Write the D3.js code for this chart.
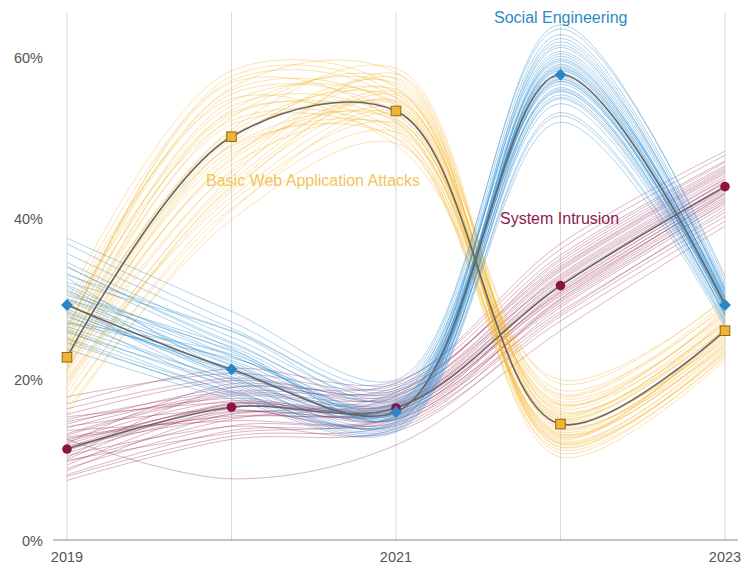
<!DOCTYPE html>
<html>
<head>
<meta charset="utf-8">
<script src="https://cdn.jsdelivr.net/npm/d3@7"></script>
<style>
  html, body { margin: 0; padding: 0; background: #fff; }
  svg { display: block; font-family: "Liberation Sans", Arial, sans-serif; }
</style>
</head>
<body>
<svg id="chart" width="746" height="564"></svg>
<script>
// Years on the x axis and the ones that get a label
const years = [2019, 2020, 2021, 2022, 2023];
const yearLabels = [2019, 2021, 2023];
const yTicks = [0, 20, 40, 60];

// Central estimate per pattern (share of breaches, %)
const webMedian = [22.7, 50.1, 53.3, 14.4, 26.0];
const socialMedian = [29.2, 21.2, 15.9, 57.8, 29.2];
const intrusionMedian = [11.3, 16.5, 16.4, 31.6, 43.9];

// Resampled estimates, one row per draw (2019..2023)
const webDraws = [
  [21.5, 47.2, 54.1, 13.2, 25.1], [24.3, 52.8, 51.9, 15.6, 27.3], [19.8, 44.5, 55.6, 12.1, 24.2],
  [26.1, 55.4, 53.0, 16.8, 28.4], [22.0, 49.3, 56.8, 11.5, 23.6], [17.4, 41.2, 50.7, 14.9, 26.8],
  [28.5, 57.1, 54.9, 17.9, 29.2], [23.4, 51.6, 49.8, 13.7, 25.5], [20.6, 46.0, 57.4, 10.8, 22.9],
  [25.2, 53.9, 52.4, 18.6, 28.9], [18.9, 43.7, 53.6, 12.8, 24.7], [27.3, 56.2, 58.1, 15.2, 26.3],
  [21.1, 48.4, 51.2, 16.3, 27.8], [23.9, 50.7, 55.0, 11.9, 23.1], [16.2, 39.8, 49.3, 13.4, 25.9],
  [29.6, 58.3, 56.2, 19.4, 30.1], [22.5, 47.9, 52.7, 14.1, 24.0], [24.8, 54.5, 54.3, 12.5, 26.6],
  [19.3, 45.1, 57.9, 15.8, 27.0], [26.7, 52.1, 50.5, 17.2, 28.1], [20.2, 42.6, 53.2, 10.3, 22.4],
  [23.1, 49.8, 55.8, 14.6, 25.3], [25.9, 56.8, 52.0, 13.0, 24.5], [18.1, 44.0, 54.6, 16.0, 26.1],
  [27.9, 53.4, 56.5, 18.1, 29.6], [21.8, 46.6, 51.5, 12.3, 23.8], [24.0, 51.0, 58.6, 15.4, 27.5],
  [22.9, 48.9, 50.0, 11.2, 22.7], [15.6, 40.9, 52.9, 14.3, 25.7], [26.4, 55.9, 54.0, 16.6, 28.6],
  [20.9, 47.5, 56.0, 13.9, 24.9], [23.6, 50.3, 53.5, 12.7, 26.4], [28.1, 54.8, 49.1, 19.9, 29.9],
  [19.6, 43.3, 55.3, 11.6, 23.4], [24.6, 52.5, 57.2, 15.1, 27.1], [22.2, 49.0, 52.2, 14.8, 25.0],
  [17.0, 42.0, 51.8, 13.1, 24.3], [25.5, 57.6, 55.5, 17.6, 28.0], [21.3, 45.7, 54.4, 16.9, 26.9],
  [23.2, 53.1, 50.9, 12.0, 23.3]
];
const socialDraws = [
  [28.4, 20.6, 15.2, 56.9, 28.8], [31.7, 22.9, 16.8, 59.4, 30.1], [26.2, 19.1, 14.3, 54.8, 27.5],
  [33.9, 24.6, 17.5, 61.2, 31.0], [29.8, 21.7, 15.6, 58.3, 29.4], [24.5, 18.2, 13.8, 53.1, 27.0],
  [35.6, 26.3, 18.9, 62.8, 31.8], [27.3, 20.0, 16.2, 57.0, 28.3], [30.9, 23.4, 15.0, 60.1, 29.9],
  [32.6, 21.0, 17.1, 55.7, 28.6], [25.8, 19.6, 14.7, 58.9, 30.4], [29.1, 22.3, 16.5, 57.5, 29.0],
  [36.8, 27.1, 19.4, 64.0, 32.3], [28.0, 18.8, 14.0, 56.2, 27.8], [30.4, 24.0, 16.0, 59.8, 29.6],
  [23.7, 17.5, 13.4, 51.9, 26.4], [34.5, 25.2, 18.3, 61.9, 30.7], [27.7, 21.4, 15.4, 55.3, 28.1],
  [31.2, 20.3, 16.6, 58.6, 29.7], [26.9, 22.6, 17.8, 60.7, 30.9], [33.1, 23.8, 14.9, 57.3, 28.5],
  [29.5, 19.4, 15.8, 56.0, 29.2], [25.1, 18.5, 14.5, 54.2, 27.2], [32.0, 25.9, 17.3, 62.3, 31.4],
  [28.7, 20.9, 16.4, 58.0, 29.3], [30.0, 22.1, 15.1, 59.1, 30.2], [37.5, 28.4, 19.9, 63.5, 32.8],
  [26.5, 19.9, 14.1, 55.0, 27.9], [31.5, 21.8, 16.9, 57.8, 28.9], [27.0, 23.1, 15.5, 60.4, 30.5],
  [34.0, 24.4, 18.0, 56.6, 29.1], [29.3, 20.2, 15.3, 58.4, 29.5], [24.9, 17.9, 13.6, 52.7, 26.8],
  [30.7, 22.8, 17.0, 61.5, 31.2], [28.2, 21.1, 16.1, 57.2, 28.7], [32.9, 26.0, 18.6, 59.6, 30.0],
  [26.0, 18.4, 14.6, 55.8, 28.0], [29.9, 23.6, 15.7, 58.7, 29.8]
];
const intrusionDraws = [
  [10.8, 15.9, 16.0, 30.8, 43.1], [13.2, 18.1, 17.4, 33.0, 45.2], [8.9, 14.2, 15.1, 29.5, 41.8],
  [15.6, 19.8, 18.6, 34.7, 46.5], [11.9, 16.8, 16.9, 31.9, 44.0], [7.4, 12.5, 13.8, 27.2, 39.6],
  [16.9, 21.3, 19.7, 36.1, 47.8], [12.4, 17.3, 15.6, 31.2, 43.5], [9.7, 15.0, 17.8, 32.6, 44.8],
  [14.1, 16.2, 14.6, 29.9, 42.4], [10.2, 18.9, 18.1, 33.8, 45.9], [12.8, 15.4, 16.3, 30.3, 42.9],
  [8.1, 13.6, 14.9, 28.4, 40.7], [17.8, 20.7, 19.2, 35.4, 47.1], [11.5, 17.0, 17.0, 32.2, 44.3],
  [13.6, 14.8, 15.3, 30.0, 43.0], [9.3, 16.4, 16.6, 31.5, 44.6], [15.0, 18.5, 18.9, 34.0, 46.1],
  [10.5, 14.1, 13.5, 27.8, 40.2], [12.0, 19.4, 17.6, 33.4, 45.5], [14.7, 17.6, 16.1, 31.0, 43.7],
  [8.6, 15.7, 15.8, 29.2, 42.0], [11.1, 16.0, 14.2, 28.9, 41.5], [16.3, 20.1, 18.4, 35.0, 46.9],
  [13.0, 17.9, 17.2, 32.8, 44.9], [9.9, 13.3, 15.4, 30.5, 42.6], [12.2, 16.6, 16.7, 31.7, 43.8],
  [14.4, 19.0, 19.5, 36.8, 48.3], [7.9, 12.9, 14.4, 28.1, 41.1], [11.7, 15.2, 16.5, 30.7, 43.3],
  [13.9, 18.3, 17.9, 33.6, 45.7], [10.0, 16.9, 15.0, 29.7, 42.2], [15.3, 17.1, 16.8, 32.4, 44.4],
  [12.6, 15.6, 18.3, 34.3, 46.3], [12.5, 7.6, 11.8, 26.0, 39.0]
];

const series = [
  { name: "System Intrusion", draws: intrusionDraws, median: intrusionMedian,
    color: "#8e1c4f", opacity: 0.36, marker: "circle", labelColor: "#8a1d4b", labelX: 500, labelY: 224 },
  { name: "Basic Web Application Attacks", draws: webDraws, median: webMedian,
    color: "#f5b52e", opacity: 0.42, marker: "square", labelColor: "#f4c458", labelX: 206, labelY: 186 },
  { name: "Social Engineering", draws: socialDraws, median: socialMedian,
    color: "#2a8bcf", opacity: 0.42, marker: "diamond", labelColor: "#2b8cc6", labelX: 494, labelY: 23 }
];

const svg = d3.select("#chart");
const x = d3.scaleLinear().domain([2019, 2023]).range([67, 725]);
const y = d3.scaleLinear().domain([0, 60]).range([540, 57]);

// vertical year gridlines
svg.append("g")
  .selectAll("line")
  .data(years)
  .join("line")
  .attr("x1", d => x(d)).attr("x2", d => x(d))
  .attr("y1", 12).attr("y2", y(0))
  .attr("stroke", "#d9d9d9").attr("stroke-width", 1);

// y tick labels
svg.append("g")
  .selectAll("text")
  .data(yTicks)
  .join("text")
  .attr("x", 43).attr("y", d => y(d) + 6)
  .attr("text-anchor", "end")
  .attr("fill", "#555").attr("font-size", 14.5)
  .text(d => d + "%");

// x tick labels
svg.append("g")
  .selectAll("text")
  .data(yearLabels)
  .join("text")
  .attr("x", d => x(d)).attr("y", 562)
  .attr("text-anchor", "middle")
  .attr("fill", "#555").attr("font-size", 14.5)
  .text(d => d);

// baseline
svg.append("line")
  .attr("x1", 53).attr("x2", 738)
  .attr("y1", y(0)).attr("y2", y(0))
  .attr("stroke", "#8a8a8a").attr("stroke-width", 1.2);

const line = d3.line()
  .x((d, i) => x(years[i]))
  .y(d => y(d))
  .curve(d3.curveCatmullRom.alpha(0.6));

// resampled lines
series.forEach(s => {
  svg.append("g")
    .selectAll("path")
    .data(s.draws)
    .join("path")
    .attr("d", line)
    .attr("fill", "none")
    .attr("stroke", s.color)
    .attr("stroke-opacity", s.opacity)
    .attr("stroke-width", 0.9);
});

// central lines
series.forEach(s => {
  svg.append("path")
    .datum(s.median)
    .attr("d", line)
    .attr("fill", "none")
    .attr("stroke", "#666")
    .attr("stroke-width", 1.6);
});

// markers
series.forEach(s => {
  const g = svg.append("g");
  s.median.forEach((v, i) => {
    const cx = x(years[i]), cy = y(v);
    if (s.marker === "circle") {
      g.append("circle").attr("cx", cx).attr("cy", cy).attr("r", 4.8)
        .attr("fill", "#8c1444");
    } else if (s.marker === "square") {
      g.append("rect").attr("x", cx - 4.8).attr("y", cy - 4.8)
        .attr("width", 9.6).attr("height", 9.6)
        .attr("fill", "#f2b232").attr("stroke", "#8a6a24").attr("stroke-width", 1);
    } else {
      g.append("path")
        .attr("d", d3.symbol(d3.symbolDiamond2, 90)())
        .attr("transform", `translate(${cx},${cy})`)
        .attr("fill", "#2a86c6");
    }
  });
});

// series labels
series.forEach(s => {
  svg.append("text")
    .attr("x", s.labelX).attr("y", s.labelY)
    .attr("fill", s.labelColor)
    .attr("font-size", 16)
    .text(s.name);
});
</script>
</body>
</html>
